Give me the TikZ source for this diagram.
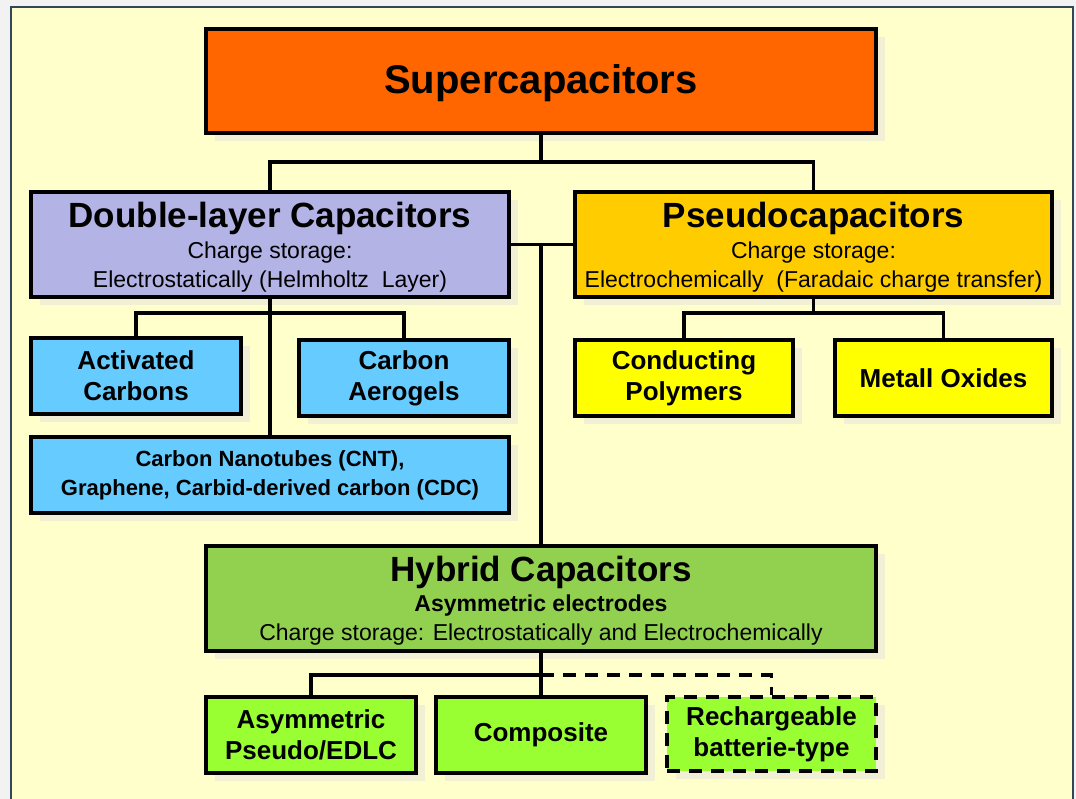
\documentclass[tikz,border=0pt]{standalone}
\usepackage{fontspec}
\setmainfont{Liberation Sans}
\usepackage{tikz}
\usetikzlibrary{positioning,shadows}

\definecolor{bgyellow}{RGB}{255,255,204}
\definecolor{shade}{RGB}{242,240,212}
\definecolor{frame}{RGB}{50,70,90}
\definecolor{supcol}{RGB}{255,102,0}
\definecolor{dlccol}{RGB}{179,179,230}
\definecolor{pseudocol}{RGB}{255,204,0}
\definecolor{cyancol}{RGB}{102,204,255}
\definecolor{ycol}{RGB}{255,255,0}
\definecolor{hybcol}{RGB}{146,208,80}
\definecolor{gcol}{RGB}{153,255,51}

\begin{document}
\begin{tikzpicture}[x=1pt,y=-1pt,
  box/.style={draw,line width=4pt,inner sep=0pt,align=center,text=black,
    drop shadow={shadow xshift=9pt,shadow yshift=-8pt,fill=shade,opacity=1}},
  big/.style={box,minimum height=105pt,text depth=-5pt,font=\fontsize{23}{29}\selectfont},
  small/.style={box,minimum height=76pt,font=\fontsize{26}{31}\selectfont\bfseries},
  link/.style={line width=3.8pt},
  hint/.style={link,dash pattern=on 13pt off 9pt}]

\fill[black!5] (0,0) rectangle (1076,799);
\useasboundingbox (0,0) rectangle (1076,799);
\filldraw[fill=bgyellow,draw=frame,line width=1.5pt] (11,7) rectangle (1073,812);

\node[big,fill=supcol,minimum width=670pt,minimum height=104pt,text depth=3pt,
  font=\fontsize{40}{44}\selectfont\bfseries] (sup) at (541,81) {Supercapacitors};

\node[big,fill=dlccol,minimum width=478pt] (dlc) at (270,244.5)
  {{\fontsize{35}{38}\selectfont\bfseries Double-layer Capacitors}\\[2pt]
   Charge storage:\\ Electrostatically (Helmholtz~~Layer)};
\node[big,fill=pseudocol,minimum width=477pt] (pseudo) at (813.5,244.5)
  {{\fontsize{35}{38}\selectfont\bfseries Pseudocapacitors}\\[2pt]
   Charge storage:\\ Electrochemically~~(Faradaic charge transfer)};

\foreach \name/\x/\y/\w/\fillcol/\txt in {
    act/136/376/210/cyancol/{Activated\\Carbons},
    aero/404/378/210/cyancol/{Carbon\\Aerogels},
    poly/684/378/218/ycol/{Conducting\\Polymers},
    oxide/943.5/378/217/ycol/{Metall Oxides},
    asym/311/735/210/gcol/{Asymmetric\\Pseudo/EDLC},
    comp/541/735/210/gcol/{Composite}} {
  \node[small,fill=\fillcol,minimum width=\w pt] (\name) at (\x,\y) {\txt};
}

\node[box,fill=cyancol,minimum width=478pt,minimum height=76pt,
  font=\fontsize{22}{29}\selectfont\bfseries] (cnt) at (270,475)
  {Carbon Nanotubes (CNT),\\ Graphene, Carbid-derived carbon (CDC)};

\node[big,fill=hybcol,minimum width=670pt] (hyb) at (541,598.5)
  {{\fontsize{35}{38}\selectfont\bfseries Hybrid Capacitors}\\[1pt]
   {\bfseries Asymmetric electrodes}\\
   Charge storage: Electrostatically and Electrochemically};

\node[small,fill=gcol,minimum width=209pt,minimum height=74pt,
  dash pattern=on 13pt off 9pt] (rech) at (771.5,734) {Rechargeable\\batterie-type};

\coordinate (top) at (541,162);
\coordinate (dlcfork) at (270,313);
\coordinate (pseudofork) at (813.5,313);
\coordinate (hybfork) at (541,675);

\draw[link] (sup.south) -- (top);
\draw[link] (dlc.north) |- (top) -| (pseudo.north);
\draw[link] (dlc.east) -- (pseudo.west);
\draw[link] (dlc.east -| hyb.north) -- (hyb.north);

\draw[link] (dlc.south) -- (cnt.north);
\draw[link] (act.north) |- (dlcfork) -| (aero.north);
\draw[link] (pseudo.south) -- (pseudofork);
\draw[link] (poly.north) |- (pseudofork) -| (oxide.north);

\draw[link] (hyb.south) -- (comp.north);
\draw[link] (asym.north) |- (hybfork);
\draw[hint] (hybfork) -| (rech.north);
\end{tikzpicture}
\end{document}
